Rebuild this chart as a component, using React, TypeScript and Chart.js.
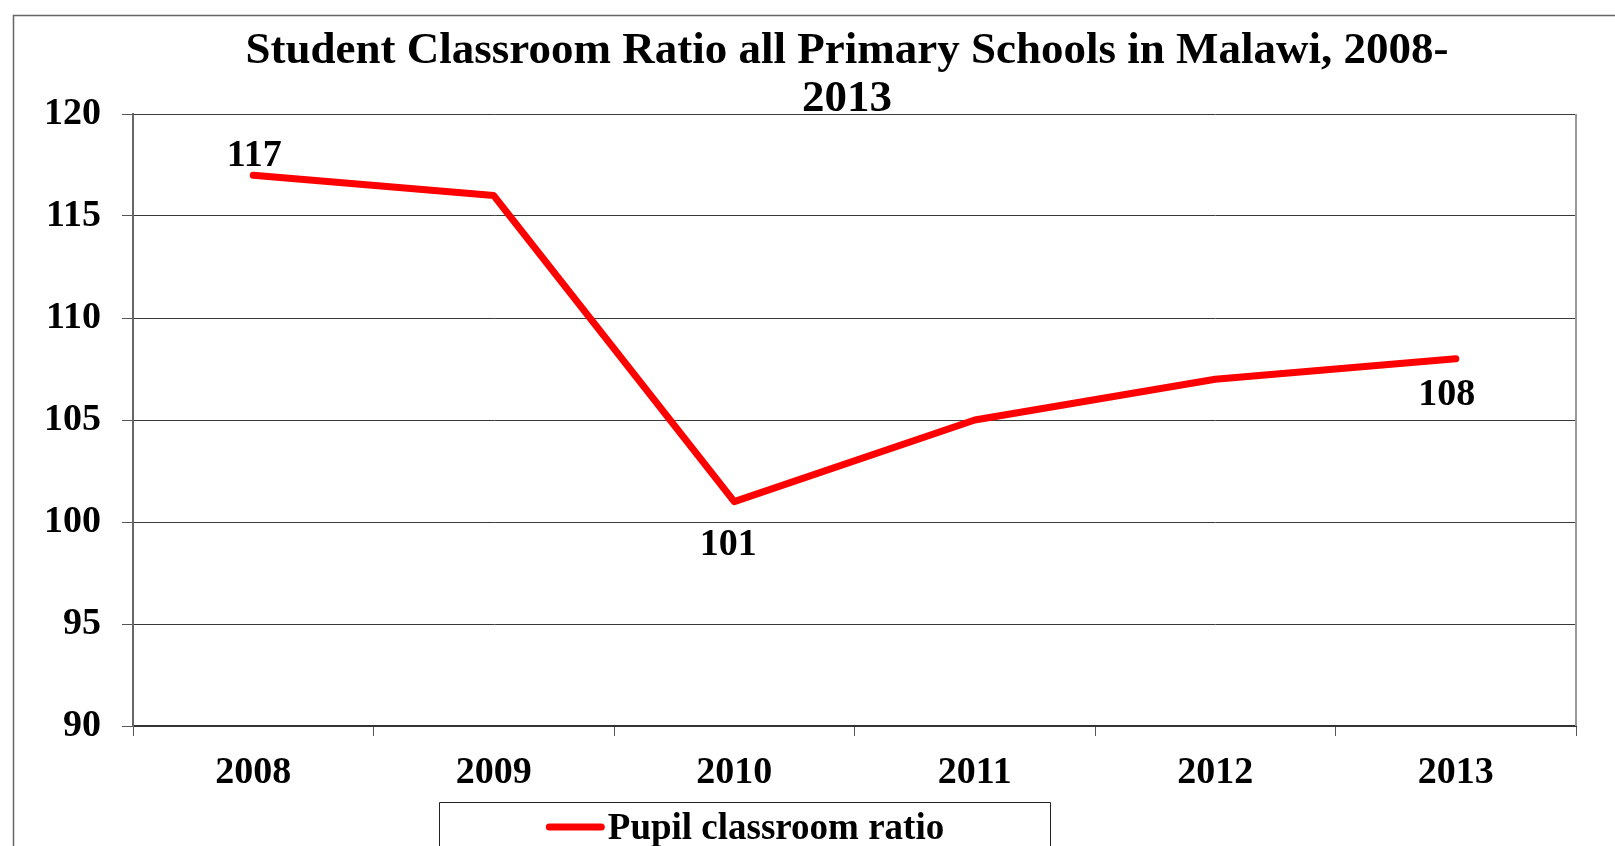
import React, { useEffect, useRef } from "react";
import { Chart, registerables } from "chart.js";

Chart.register(...registerables);

const years = ["2008", "2009", "2010", "2011", "2012", "2013"];
const ratios = [117, 116, 101, 105, 107, 108];
const seriesLabel = "Pupil classroom ratio";
const titleLines = ["Student Classroom Ratio all Primary Schools in Malawi, 2008-", "2013"];
const yTicks = [90, 95, 100, 105, 110, 115, 120];
const labeledPoints = [0, 2, 5];
const labelOffsetY = [-9, 53, 46];
const labelOffsetX = [1, -6, -9];

const FONT = "'Liberation Serif', 'Times New Roman', serif";

const decorPlugin = {
  id: "decor",
  beforeDraw(chart: any) {
    const ctx = chart.ctx;
    ctx.save();
    ctx.fillStyle = "#ffffff";
    ctx.fillRect(0, 0, chart.width, chart.height);
    ctx.strokeStyle = "#666666";
    ctx.lineWidth = 1.5;
    ctx.beginPath();
    ctx.moveTo(13.5, chart.height + 10);
    ctx.lineTo(13.5, 15.5);
    ctx.lineTo(chart.width + 10, 15.5);
    ctx.stroke();
    ctx.restore();
  },
  afterDraw(chart: any) {
    const ctx = chart.ctx;
    const area = chart.chartArea;
    ctx.save();
    // right border of the plot area
    ctx.strokeStyle = "#999999";
    ctx.lineWidth = 2;
    ctx.beginPath();
    ctx.moveTo(area.right, area.top);
    ctx.lineTo(area.right, area.bottom);
    ctx.stroke();

    // legend
    const ds = chart.data.datasets[0];
    ctx.font = `bold 37px ${FONT}`;
    const textW = ctx.measureText(ds.label).width;
    const lineW = 59;
    const gap = 3;
    const contentW = lineW + gap + textW;
    const cx = 745;
    const startX = cx - contentW / 2;
    const cy = 829;
    const boxLeft = 439.5;
    const boxRight = 1050.5;
    ctx.strokeStyle = "#222222";
    ctx.lineWidth = 1;
    ctx.beginPath();
    ctx.moveTo(boxLeft, chart.height + 5);
    ctx.lineTo(boxLeft, 802.5);
    ctx.lineTo(boxRight, 802.5);
    ctx.lineTo(boxRight, chart.height + 5);
    ctx.stroke();
    ctx.strokeStyle = ds.borderColor;
    ctx.lineWidth = 7;
    ctx.lineCap = "round";
    ctx.beginPath();
    ctx.moveTo(startX + 3.5, cy - 2);
    ctx.lineTo(startX + lineW - 3.5, cy - 2);
    ctx.stroke();
    ctx.fillStyle = "#000000";
    ctx.textBaseline = "middle";
    ctx.textAlign = "left";
    ctx.fillText(ds.label, startX + lineW + gap, cy);
    ctx.restore();
  },
  afterDatasetsDraw(chart: any) {
    const ctx = chart.ctx;
    const meta = chart.getDatasetMeta(0);
    const data = chart.data.datasets[0].data;
    ctx.save();
    ctx.font = `bold 38px ${FONT}`;
    ctx.fillStyle = "#000000";
    ctx.textAlign = "center";
    ctx.textBaseline = "alphabetic";
    labeledPoints.forEach((idx, k) => {
      const pt = meta.data[idx];
      if (!pt) return;
      ctx.fillText(String(data[idx]), pt.x + labelOffsetX[k], pt.y + labelOffsetY[k]);
    });
    ctx.restore();
  },
};

export default function App() {
  const canvasRef = useRef<HTMLCanvasElement | null>(null);

  useEffect(() => {
    const canvas = canvasRef.current;
    if (!canvas) return;
    const chart = new Chart(canvas, {
      type: "line",
      data: {
        labels: years,
        datasets: [
          {
            label: seriesLabel,
            data: ratios,
            borderColor: "#ff0000",
            backgroundColor: "#ff0000",
            borderWidth: 7,
            borderCapStyle: "round",
            borderJoinStyle: "round",
            pointRadius: 0,
            pointHoverRadius: 0,
            tension: 0,
            fill: false,
          },
        ],
      },
      options: {
        responsive: true,
        maintainAspectRatio: false,
        animation: false,
        layout: { padding: { left: 118, right: 39, top: 0, bottom: 60 } },
        plugins: {
          legend: { display: false },
          tooltip: { enabled: false },
          title: {
            display: true,
            text: titleLines,
            color: "#000000",
            font: { family: FONT, size: 45, weight: "bold", lineHeight: 48 / 45 },
            padding: { top: 27, bottom: -9 },
          },
        },
        scales: {
          x: {
            type: "category",
            offset: true,
            afterFit: (scale: any) => {
              scale.height = 60;
            },
            grid: {
              offset: true,
              drawOnChartArea: false,
              drawTicks: true,
              tickLength: 10,
              color: "#555555",
              tickColor: "#555555",
            },
            border: { display: true, color: "#333333", width: 2 },
            ticks: {
              color: "#000000",
              font: { family: FONT, size: 38, weight: "bold", lineHeight: 1 },
              padding: 18,
              maxRotation: 0,
            },
          },
          y: {
            min: yTicks[0],
            max: yTicks[yTicks.length - 1],
            afterFit: (scale: any) => {
              scale.width = 15;
              scale._computeLabelArea = () => undefined;
            },
            ticks: {
              stepSize: yTicks[1] - yTicks[0],
              color: "#000000",
              font: { family: FONT, size: 38, weight: "bold", lineHeight: 1 },
              padding: 21,
            },
            grid: {
              color: "#3a3a3a",
              lineWidth: 1,
              drawTicks: true,
              tickLength: 11,
              tickColor: "#555555",
            },
            border: { display: true, color: "#666666", width: 2 },
          },
        },
      },
      plugins: [decorPlugin],
    });
    return () => chart.destroy();
  }, []);

  return (
    <div style={{ position: "fixed", left: 0, top: 0, width: 1615, height: 846, background: "#fff" }}>
      <canvas ref={canvasRef} />
    </div>
  );
}
